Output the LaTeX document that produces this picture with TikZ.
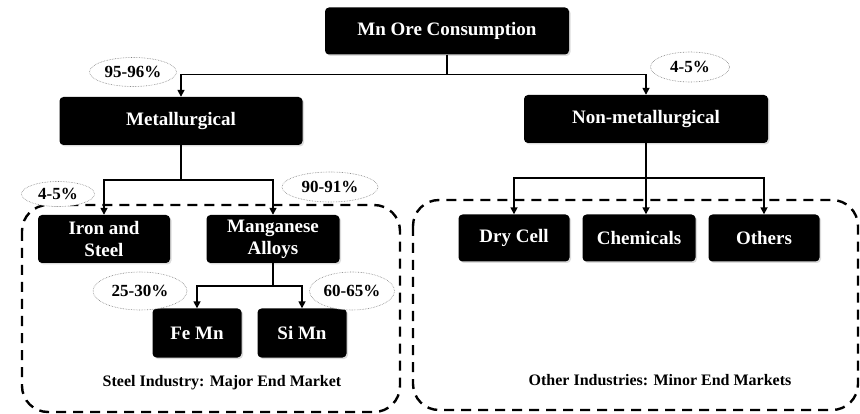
\documentclass[tikz,border=0pt]{standalone}
\usepackage{fontspec}
\setmainfont{Liberation Serif}
\usetikzlibrary{arrows.meta,shapes,positioning,shadows}

\tikzset{
  catbox/.style={rectangle, rounded corners=4pt, fill=black, text=white, align=center, inner sep=2pt,
    font=\fontsize{19}{22}\selectfont\bfseries,
    drop shadow={shadow xshift=1.5pt, shadow yshift=-1.5pt, fill=gray!55}},
  share/.style={ellipse, draw=gray, densely dotted, line width=0.6pt, fill=white, inner sep=1pt,
    font=\fontsize{17}{20}\selectfont\bfseries},
  arr/.style={-{Triangle[length=7pt,width=7pt]}, line width=1.6pt},
  zone/.style={draw, line width=2.4pt, dash pattern=on 10pt off 7pt, rounded corners=26pt},
  caption/.style={font=\fontsize{16}{19}\selectfont\bfseries}
}

\begin{document}
\begin{tikzpicture}[x=1pt, y=-1pt, node distance=125pt]
\useasboundingbox (0,0) rectangle (860,414);

% end markets
\draw[zone] (22,205) rectangle (400,412);
\draw[zone] (413,200) rectangle (858,410);

\node[catbox, minimum width=244pt, minimum height=47pt] (ore) at (447,31) {Mn Ore Consumption};
\node[catbox, minimum width=243pt, minimum height=48pt] (metal) at (181,121) {Metallurgical};
\node[catbox, minimum width=244pt, minimum height=48pt] (nonmetal) at (646,119) {Non-metallurgical};
\node[catbox, minimum width=132pt, minimum height=48pt] (iron) at (104,239) {Iron and\\Steel};
\node[catbox, minimum width=133pt, minimum height=48pt] (mnalloy) at (273,239) {Manganese\\Alloys};
\node[catbox, minimum width=89pt, minimum height=49pt] (femn) at (197,333) {Fe Mn};
\node[catbox, minimum width=89pt, minimum height=49pt, right of=femn, node distance=105pt] (simn) {Si Mn};
\node[catbox, minimum width=111pt, minimum height=47pt] (drycell) at (514,238) {Dry Cell};
\node[catbox, minimum width=113pt, minimum height=47pt, right of=drycell] (chem) {Chemicals};
\node[catbox, minimum width=111pt, minimum height=47pt, right of=chem] (others) {Others};

\draw[arr] (ore.south) -- ++(0,20) -| (metal.north);
\draw[arr] (ore.south) -- ++(0,20) -| (nonmetal.north);
\draw[arr] (metal.south) -- ++(0,35) -| (iron.north);
\draw[arr] (metal.south) -- ++(0,35) -| (mnalloy.north);
\draw[arr] (mnalloy.south) -- ++(0,23) -| (femn.north);
\draw[arr] (mnalloy.south) -- ++(0,23) -| (simn.north);
\draw[arr] (nonmetal.south) -- ++(0,35) -| (drycell.north);
\draw[arr] (nonmetal.south) -- (nonmetal.south |- chem.north);
\draw[arr] (nonmetal.south) -- ++(0,35) -| (others.north);

% shares
\node[share, minimum width=87pt, minimum height=29pt] (pmetal) at (133,72) {95-96\%};
\node[share, minimum width=79pt, minimum height=30pt] (pnonmetal) at (690,67) {4-5\%};
\node[share, minimum width=73pt, minimum height=25pt] (piron) at (58,194) {4-5\%};
\node[share, minimum width=96pt, minimum height=30pt] (pmnalloy) at (330,187) {90-91\%};
\node[share, minimum width=94pt, minimum height=38pt] (pfemn) at (140,291) {25-30\%};
\node[share, minimum width=85pt, minimum height=38pt] (psimn) at (352,291) {60-65\%};

\node[caption] (steelnote) at (222,383) {Steel Industry: Major End Market};
\node[caption] (othernote) at (660,380) {Other Industries: Minor End Markets};
\end{tikzpicture}
\end{document}
